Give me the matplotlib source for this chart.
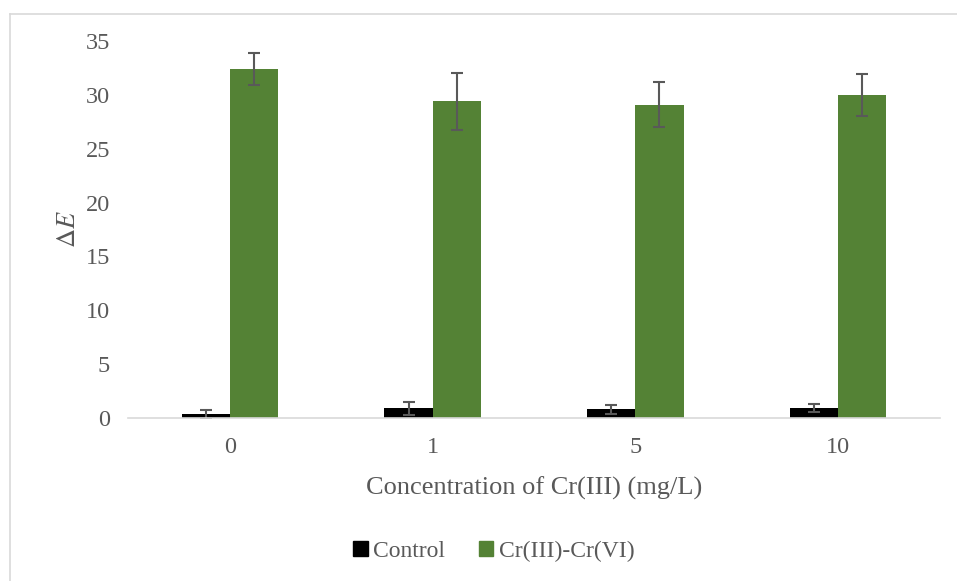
import numpy as np
import matplotlib.pyplot as plt
from matplotlib.lines import Line2D
from matplotlib.patches import Patch

plt.rcParams.update({
    'font.family': 'Liberation Serif',
    'mathtext.fontset': 'stix',
    'font.size': 18,
})

categories = ['0', '1', '5', '10']
control = [0.34, 0.90, 0.80, 0.96]
control_err = [0.43, 0.58, 0.40, 0.37]
cr = [32.4, 29.4, 29.1, 30.0]
cr_err = [1.45, 2.65, 2.1, 1.95]

gray = '#595959'
green = '#548235'

fig = plt.figure(figsize=(9.57, 5.81), dpi=100)
ax = fig.add_axes([0.134, 0.2806, 0.848, 0.6488])

x = np.arange(len(categories))
w = 0.237
ax.bar(x - w / 2, control, w, color='black', label='Control')
ax.bar(x + w / 2, cr, w, color=green, label='Cr(III)-Cr(VI)')
ax.errorbar(x - w / 2, control, yerr=control_err, fmt='none', ecolor=gray,
            elinewidth=1.5, capsize=4.5, capthick=1.5)
ax.errorbar(x + w / 2, cr, yerr=cr_err, fmt='none', ecolor=gray,
            elinewidth=1.5, capsize=4.5, capthick=1.5)

ax.set_xlim(-0.5, 3.5)
ax.set_ylim(0, 35)
ax.set_yticks(range(0, 36, 5))
ax.set_xticks(x)
ax.set_xticklabels(categories)
for s in ['top', 'right', 'left']:
    ax.spines[s].set_visible(False)
ax.spines['bottom'].set_color('#d9d9d9')
ax.spines['bottom'].set_linewidth(1.2)
ax.tick_params(axis='both', length=0, colors=gray, labelsize=17.5)
ax.tick_params(axis='x', pad=14)
ax.tick_params(axis='y', pad=13)

ax.set_xlabel('Concentration of Cr(III) (mg/L)', color=gray, fontsize=19, labelpad=13)
ax.set_ylabel(r'$\Delta E$', color=gray, fontsize=19, labelpad=4)

handles = [Patch(color='black'), Patch(color=green)]
fig.legend(handles, ['Control', 'Cr(III)-Cr(VI)'], loc='center',
           bbox_to_anchor=(0.516, 0.051), ncol=2, frameon=False,
           fontsize=17, labelcolor=gray, handlelength=0.6, handleheight=0.6,
           handletextpad=0.25, columnspacing=1.4)

# chart border (top and left visible)
fig.add_artist(Line2D([10 / 957, 1], [1 - 13.5 / 581] * 2, transform=fig.transFigure,
                      color='#d9d9d9', lw=1.2))
fig.add_artist(Line2D([10 / 957] * 2, [0, 1 - 13.5 / 581], transform=fig.transFigure,
                      color='#d9d9d9', lw=1.2))

fig.savefig('out.png', dpi=100)
